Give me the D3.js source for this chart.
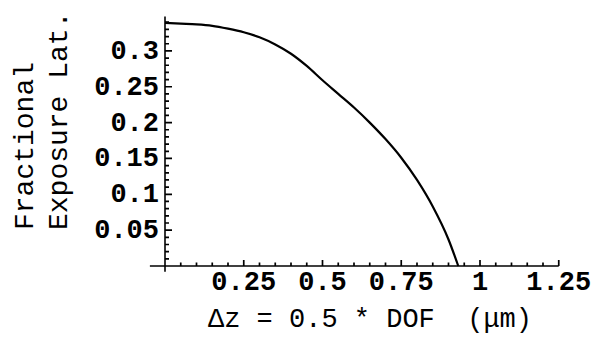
<!DOCTYPE html>
<html>
<head>
<meta charset="utf-8">
<script src="https://cdn.jsdelivr.net/npm/d3@7"></script>
<style>
  html, body { margin: 0; padding: 0; background: #fff; }
  svg { display: block; }
</style>
</head>
<body>
<svg id="chart" width="592" height="337"></svg>
<script>
// Data
const dz  = [0, 0.05, 0.10, 0.15, 0.20, 0.25, 0.30, 0.35, 0.40, 0.45, 0.50, 0.55, 0.60, 0.65, 0.70, 0.75, 0.80, 0.85, 0.90, 0.931];
const lat = [0.339, 0.338, 0.337, 0.335, 0.331, 0.326, 0.319, 0.309, 0.296, 0.279, 0.259, 0.240, 0.221, 0.200, 0.177, 0.151, 0.120, 0.083, 0.037, 0];

const xTicks = [0.25, 0.5, 0.75, 1, 1.25];
const xTickLabels = ["0.25", "0.5", "0.75", "1", "1.25"];
const yTicks = [0.05, 0.1, 0.15, 0.2, 0.25, 0.3];
const yTickLabels = ["0.05", "0.1", "0.15", "0.2", "0.25", "0.3"];
const xTitle = "\u0394z = 0.5 * DOF  (\u03bcm)";
const yTitleLines = ["Fractional", "Exposure Lat."];

const svg = d3.select("#chart");
const x = d3.scaleLinear().domain([0, 1.25]).range([165, 558.75]);
const y = d3.scaleLinear().domain([0, 0.3]).range([266, 50.9]);

const axisColor = "#000";
const g = svg.append("g");

const isMajor = (d, step) => Math.abs(d / step - Math.round(d / step)) < 1e-6;

const xMinor = d3.range(1, 26).map(i => +(i * 0.05).toFixed(4));
const yMinor = d3.range(1, 35).map(i => +(i * 0.01).toFixed(4));

const xTickPath = xMinor.map(d => `M${x(d)},${y(0)}V${y(0) - (isMajor(d, 0.25) ? 6 : 3.5)}`).join("");
const yTickPath = yMinor.map(d => `M${x(0)},${y(d)}H${x(0) + (isMajor(d, 0.05) ? 7 : 4)}`).join("");

g.append("path").attr("d", xTickPath).attr("fill", "none")
  .attr("stroke", axisColor).attr("stroke-width", 1.7);
g.append("path").attr("d", yTickPath).attr("fill", "none")
  .attr("stroke", axisColor).attr("stroke-width", 1.7);

// axis lines
g.append("line").attr("x1", x(-0.048)).attr("x2", x(1.25))
  .attr("y1", y(0)).attr("y2", y(0)).attr("stroke", axisColor).attr("stroke-width", 1.6);
g.append("line").attr("x1", x(0)).attr("x2", x(0))
  .attr("y1", y(-0.008)).attr("y2", y(0.348)).attr("stroke", axisColor).attr("stroke-width", 1.6);

const tickFont = "'Liberation Mono', 'Courier New', monospace";
g.selectAll("text.xlab").data(xTicks).join("text").attr("class", "xlab")
  .attr("x", d => x(d)).attr("y", 290)
  .attr("text-anchor", "middle")
  .attr("font-family", tickFont).attr("font-weight", "bold").attr("font-size", 27)
  .text((d, i) => xTickLabels[i]);

g.selectAll("text.ylab").data(yTicks).join("text").attr("class", "ylab")
  .attr("x", 159).attr("y", d => y(d) + 8)
  .attr("text-anchor", "end")
  .attr("font-family", tickFont).attr("font-weight", "bold").attr("font-size", 27)
  .text((d, i) => yTickLabels[i]);

const line = d3.line().x((d, i) => x(dz[i])).y(d => y(d)).curve(d3.curveMonotoneX);
g.append("path").datum(lat)
  .attr("d", line).attr("fill", "none")
  .attr("stroke", "#000").attr("stroke-width", 2.2).attr("stroke-linejoin", "round");

g.append("text").attr("x", 370).attr("y", 327)
  .attr("text-anchor", "middle")
  .attr("font-family", tickFont).attr("font-size", 27)
  .style("white-space", "pre")
  .text(xTitle);

yTitleLines.forEach((t, i) => {
  g.append("text")
    .attr("transform", `translate(${33 + i * 34},230) rotate(-90)`)
    .attr("text-anchor", "start")
    .attr("font-family", tickFont).attr("font-size", 28)
    .style("white-space", "pre")
    .text(t);
});
</script>
</body>
</html>
